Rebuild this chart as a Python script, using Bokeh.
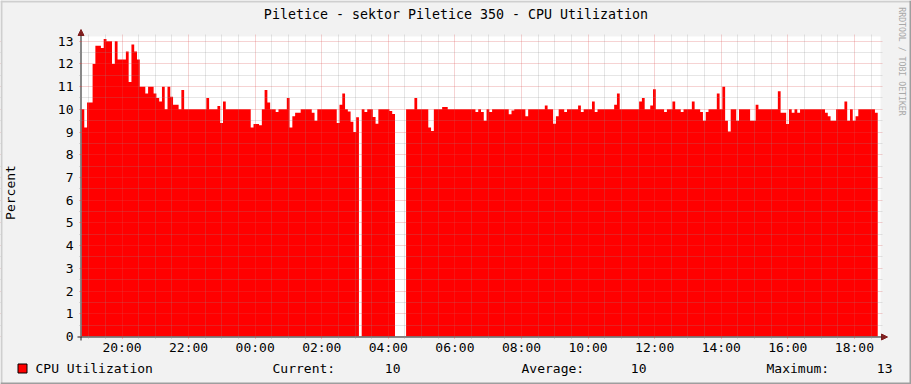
import math
from bokeh.plotting import figure
from bokeh.models import (Range1d, FixedTicker, Arrow, NormalHead, Label, BoxAnnotation)
from bokeh.embed import file_html
from bokeh.resources import INLINE

nan = float("nan")

# ---------------- data ----------------
title_text = "Piletice - sektor Piletice 350 - CPU Utilization"
y_label = "Percent"
series_name = "CPU Utilization"
watermark = "RRDTOOL / TOBI OETIKER"

start_hour = 18 + 47 / 60.0      # 18:47 (hours since midnight of day 1)
span_hours = 24
step_minutes = 5

cpu = [
    10, 9.2, 10.3, 10.3, 12.0, 12.8, 12.8, 12.7, 13.1, 13.0, 13.0, 12.0,
    13.0, 12.2, 12.2, 12.2, 12.55, 11.2, 12.85, 12.55, 12.2, 11.0, 11.0, 10.7,
    11.0, 11.0, 10.7, 10.5, 10.35, 11.0, 10.0, 11.0, 10.55, 10.2, 10.2, 10.0,
    10.85, 10, 10, 10, 10, 10, 10, 10, 10, 10.5, 10, 10,
    10, 10.15, 9.4, 10.35, 10, 10, 10, 10, 10, 10, 10, 10,
    10, 9.2, 9.35, 9.35, 9.3, 10, 10.85, 10.3, 10, 10, 9.88, 10,
    10, 10, 10.5, 9.2, 9.7, 9.85, 9.85, 10, 10, 10, 10, 9.85,
    9.5, 10, 10, 10, 10, 10, 10, 10, 9.4, 10.2, 10.7, 10,
    9.9, 9.45, 9.0, 9.65, nan, 10, 9.88, 10, 10, 9.66, 9.37, 10,
    10, 10, 10, 9.93, 9.8, nan, nan, nan, nan, 10, 10, 10,
    10.5, 10, 10, 10, 10, 9.2, 9.05, 10, 10, 10, 10.1, 10.1,
    10, 10, 10, 10, 10, 10, 10, 10, 10, 10, 9.88, 10,
    9.88, 9.5, 10, 9.88, 10, 10, 10, 10, 10, 10, 9.78, 9.95,
    10, 10, 10, 10, 9.7, 10, 10, 10, 10, 10, 10, 10.17,
    10, 10, 9.37, 9.7, 10, 10, 9.88, 10, 10, 10, 10, 10.17,
    9.88, 10, 10, 10, 10.35, 9.88, 10, 10, 10, 10, 10, 10,
    10.2, 10.7, 10, 10, 10, 10, 10, 10, 10, 10.35, 10.5, 10,
    10, 10.17, 10.88, 10, 10, 10, 9.88, 10, 10, 10.35, 10, 10,
    9.88, 10, 10, 10, 10.35, 10, 10, 9.88, 9.5, 9.88, 10, 10,
    10, 10.7, 10, 11.0, 9.5, 9.03, 10, 10, 9.5, 10, 10, 10,
    10, 9.5, 9.5, 10.2, 10, 10, 10, 10, 10, 10, 10, 10.8,
    9.85, 9.85, 9.35, 10, 9.85, 10, 9.85, 10, 10, 10, 10, 10,
    10, 10, 10, 10, 9.85, 9.7, 9.5, 9.5, 10, 10, 10, 10.35,
    9.5, 10, 9.5, 9.7, 10, 10, 10, 10, 10, 10, 9.85, nan,
]

tick_hours = [20, 22, 24, 26, 28, 30, 32, 34, 36, 38, 40, 42]
tick_labels = ["20:00", "22:00", "00:00", "02:00", "04:00", "06:00",
               "08:00", "10:00", "12:00", "14:00", "16:00", "18:00"]
y_ticks = list(range(0, 14))
stat_names = ["Current:", "Average:", "Maximum:"]

# ---------------- layout constants (page pixels) ----------------
PAGE_W, PAGE_H = 911, 384
PL, PR, PT, PB = 81, 880, 36, 336            # graph canvas (value 0 at PB)
HPP = span_hours / float(PR - PL)            # hours per pixel
PPU = 22.715                                 # pixels per percent
y_top = (PB - PT) / PPU
FONT = "DejaVu Sans Mono"

RED = "#FF0000"
GRID = "#8F8F8F"
MGRID = "#DE4F4F"
BACK = "#F2F2F2"
SHADE_A = "#CFCFCF"
SHADE_B = "#9E9E9E"

# the frame covers the whole canvas; axes are pinned at the graph edges
x0 = start_hour - PL * HPP
x1 = start_hour + (PAGE_W - PL) * HPP
y0 = -(PAGE_H - PB) / PPU
y1 = PB / PPU
x_end = start_hour + span_hours

p = figure(width=PAGE_W, height=PAGE_H,
           x_range=Range1d(x0, x1), y_range=Range1d(y0, y1),
           output_backend="svg", toolbar_location=None, min_border=0,
           background_fill_color=BACK, border_fill_color=BACK,
           outline_line_color=None)
p.title.visible = False

def fx(px):   # page x -> frame screen x
    return px

def fy(py):   # page y -> frame screen y (upwards)
    return PAGE_H - py

# white graph canvas
p.add_layout(BoxAnnotation(left=start_hour, right=x_end, bottom=0, top=y_top,
                           fill_color="#FFFFFF", fill_alpha=1.0, line_color=None, level="underlay"))

# ---------------- area ----------------
xs = [start_hour + i * step_minutes / 60.0 for i in range(len(cpu) + 1)]
n = len(cpu)
i = 0
while i < n:
    if math.isnan(cpu[i]):
        i += 1
        continue
    j = i
    while j < n and not math.isnan(cpu[j]):
        j += 1
    xr = xs[i:j + 1]
    yr = cpu[i:j] + [cpu[j - 1]]
    p.varea_step(x=xr, y1=[0] * len(xr), y2=yr, step_mode="after",
                 fill_color=RED, fill_alpha=1.0)
    i = j

# ---------------- axes / grid ----------------
x_minor = [h / 2.0 for h in range(int(start_hour * 2) + 1, int(x_end * 2) + 1)
           if (h / 2.0) not in tick_hours]
y_minor = [k + 0.5 for k in range(0, 13)]
xt = FixedTicker(ticks=tick_hours, minor_ticks=x_minor)
yt = FixedTicker(ticks=y_ticks, minor_ticks=y_minor)
p.xaxis.ticker = xt
p.yaxis.ticker = yt
p.xaxis.major_label_overrides = {h: lab for h, lab in zip(tick_hours, tick_labels)}
p.xaxis.fixed_location = 0
p.yaxis.fixed_location = start_hour

for ax in (p.xaxis[0], p.yaxis[0]):
    ax.level = "overlay"
    ax.axis_line_color = None
    ax.major_tick_in = 0
    ax.major_tick_out = 2
    ax.major_tick_line_color = MGRID
    ax.major_tick_line_alpha = 0.6
    ax.minor_tick_in = 0
    ax.minor_tick_out = 2
    ax.minor_tick_line_color = GRID
    ax.minor_tick_line_alpha = 0.6
    ax.major_label_text_font = FONT
    ax.major_label_text_font_size = "13px"
    ax.major_label_text_color = "#000000"
p.xaxis.major_label_standoff = 1
p.yaxis.major_label_standoff = 6
p.yaxis.axis_label = y_label
p.yaxis.axis_label_text_font = FONT
p.yaxis.axis_label_text_font_size = "13px"
p.yaxis.axis_label_text_font_style = "normal"
p.yaxis.axis_label_text_color = "#000000"
p.yaxis.axis_label_standoff = 37

for g in (p.xgrid[0], p.ygrid[0]):
    g.grid_line_color = MGRID
    g.grid_line_alpha = 0.5
    g.grid_line_dash = "1 1"
    g.minor_grid_line_color = GRID
    g.minor_grid_line_alpha = 0.45
    g.minor_grid_line_dash = "1 1"
    g.level = "annotation"

# background around the graph canvas (grid lines stop 2 px outside top/right)
def cover(left, right, bottom, top):
    p.add_layout(BoxAnnotation(left=left, right=right, bottom=bottom, top=top,
                               fill_color=BACK, fill_alpha=1.0, line_color=None))

cover(x0, x1, y_top + 2 / PPU, y1)
cover(x_end + 2 * HPP, x1, y0, y1)
cover(x0, start_hour, y0, y1)
cover(x0, x1, y0, 0)

# 3D border of the image
def sbox(l, t, r, b, fill, line=None):
    p.add_layout(BoxAnnotation(left=fx(l), right=fx(r), top=fy(t), bottom=fy(b),
                               left_units="screen", right_units="screen",
                               top_units="screen", bottom_units="screen",
                               fill_color=fill, fill_alpha=1.0,
                               line_color=line, line_width=1, line_alpha=1.0 if line else 0.0))

sbox(0, 0, PAGE_W, 2, SHADE_A)
sbox(0, 0, 2, PAGE_H, SHADE_A)
sbox(0, PAGE_H - 2, PAGE_W, PAGE_H, SHADE_B)
sbox(PAGE_W - 2, 0, PAGE_W, PAGE_H, SHADE_B)

# axis lines with arrow heads
p.add_layout(Arrow(x_start=fx(80.5), y_start=fy(340), x_end=fx(80.5), y_end=fy(29),
                   start_units="screen", end_units="screen",
                   end=NormalHead(size=6, fill_color="#801F1F", line_color="#801F1F"),
                   line_color="#1F1F1F", line_width=1))
p.add_layout(Arrow(x_start=fx(77), y_start=fy(336.5), x_end=fx(887), y_end=fy(336.5),
                   start_units="screen", end_units="screen",
                   end=NormalHead(size=6, fill_color="#801F1F", line_color="#801F1F"),
                   line_color="#1F1F1F", line_width=1))

def text(t, x, y, align="left", size="13px", color="#000000", angle=0.0):
    p.add_layout(Label(text=t, x=fx(x), y=fy(y), x_units="screen", y_units="screen",
                       text_font=FONT, text_font_size=size, text_color=color,
                       text_align=align, text_baseline="middle", angle=angle))

# title and watermark
text(title_text, PAGE_W / 2.0, 14, align="center", size="13.3px")
text(watermark, 901.5, 61, align="center", size="8.2px", color="#A8A8A8", angle=-math.pi / 2)

# ---------------- legend row ----------------
valid = [v for v in cpu if not math.isnan(v)]
stat_vals = ["%.0f" % valid[-1], "%.0f" % (sum(valid) / len(valid)), "%.0f" % max(valid)]

sbox(17.5, 363.5, 26.5, 372.5, RED, "#000000")
text(series_name, 35, 368)
for name, val, xn, xv in zip(stat_names, stat_vals, [272, 521, 766], [400, 646, 892]):
    text(name, xn, 368)
    text(val, xv, 368, align="right")

open("out.html", "w").write(file_html(p, INLINE))
